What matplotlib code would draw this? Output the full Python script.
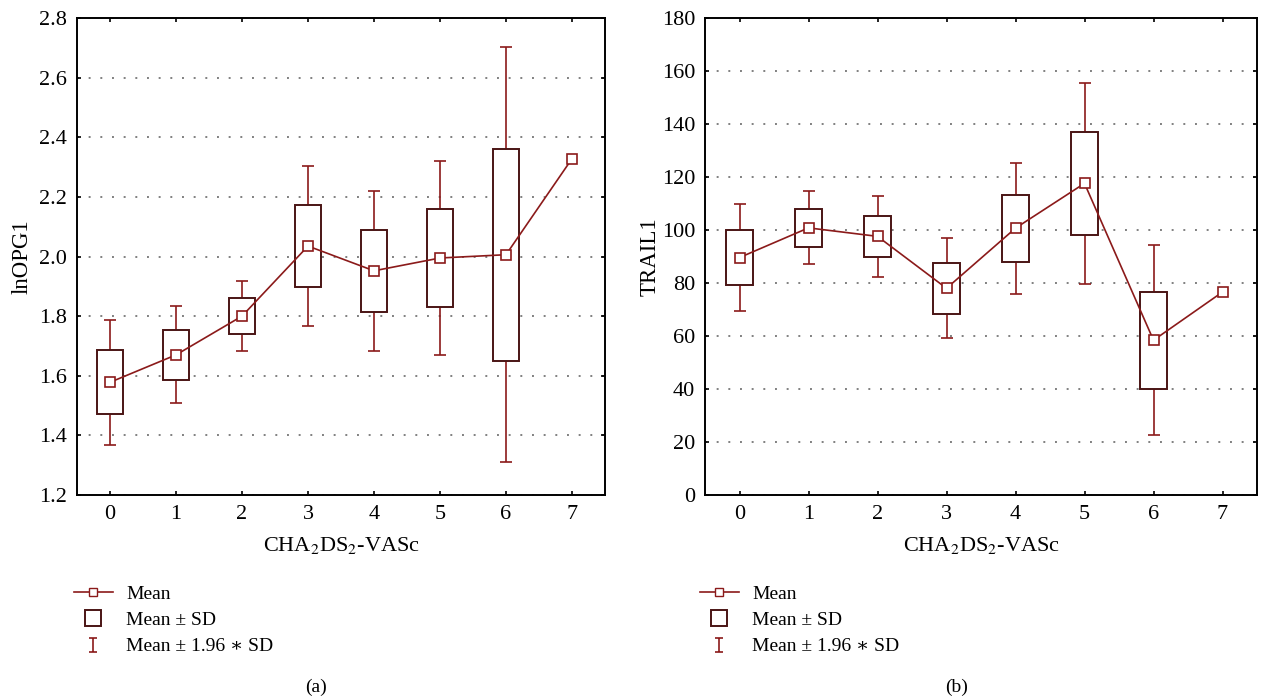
import numpy as np
import matplotlib
matplotlib.use("Agg")
import matplotlib.pyplot as plt
from matplotlib.lines import Line2D
from matplotlib.path import Path

plt.rcParams['font.family'] = ['Liberation Serif', 'DejaVu Serif']
plt.rcParams['mathtext.fontset'] = 'stix'

# CHA2DS2-VASc score groups
scores = [0, 1, 2, 3, 4, 5, 6, 7]

# lnOPG1: mean and SD per group (group 7 has a single value)
opg_mean = [1.578, 1.670, 1.800, 2.035, 1.952, 1.995, 2.006, 2.328]
opg_sd = [0.107, 0.083, 0.060, 0.137, 0.137, 0.166, 0.355, np.nan]

# TRAIL1: mean and SD per group
trail_mean = [89.6, 100.8, 97.6, 78.0, 100.7, 117.6, 58.4, 76.6]
trail_sd = [10.3, 7.05, 7.75, 9.65, 12.6, 19.4, 18.3, np.nan]

RED = '#8b1a1a'
DARK = '#4a1414'


def draw_panel(ax, mean, sd, ylim, yticks, ylabel, fmt, pad):
    x = np.array(scores)
    mean = np.array(mean)
    sd = np.array(sd)
    # whiskers: mean +/- 1.96*SD
    ax.errorbar(x, mean, yerr=1.96 * sd, fmt='none', ecolor=RED,
                elinewidth=1.2, capsize=4.5, capthick=1.2, zorder=2)
    # boxes: mean +/- SD
    ax.bar(x, 2 * sd, bottom=mean - sd, width=0.4, facecolor='white',
           edgecolor=DARK, linewidth=1.4, zorder=3)
    # mean line
    ax.plot(x, mean, color=RED, lw=1.2, marker='s', ms=6.5,
            mfc='white', mec=RED, mew=1.2, zorder=4)

    ax.set_xlim(-0.5, 7.5)
    ax.set_ylim(*ylim)
    ax.set_xticks(scores)
    ax.set_yticks(yticks)
    ax.set_yticklabels([fmt.format(v) for v in yticks])
    ax.yaxis.grid(True, color='#808080', linestyle=(0, (1, 5)), linewidth=1.4)
    ax.set_axisbelow(True)
    ax.tick_params(direction='in', top=True, right=True, length=3,
                   width=1.2, labelsize=16, pad=7)
    for s in ax.spines.values():
        s.set_linewidth(1.4)
    ax.set_xlabel(r'CHA$_2$DS$_2$-VASc', fontsize=16, labelpad=8)
    ax.set_ylabel(ylabel, fontsize=16.5, labelpad=pad)


fig = plt.figure(figsize=(12.61, 7), dpi=100)
ax1 = fig.add_axes([77 / 1261, 205 / 700, 528 / 1261, 477 / 700])
ax2 = fig.add_axes([705 / 1261, 205 / 700, 552 / 1261, 477 / 700])

draw_panel(ax1, opg_mean, opg_sd, (1.2, 2.8),
           [1.2, 1.4, 1.6, 1.8, 2.0, 2.2, 2.4, 2.6, 2.8], 'lnOPG1', '{:.1f}', 5)
draw_panel(ax2, trail_mean, trail_sd, (0, 180),
           list(range(0, 181, 20)), 'TRAIL1', '{:d}', 1)

# I-beam marker for the 1.96*SD legend entry
ibeam = Path([(-0.6, -1), (0.6, -1), (0, -1), (0, 1), (-0.6, 1), (0.6, 1)],
             [Path.MOVETO, Path.LINETO, Path.MOVETO, Path.LINETO,
              Path.MOVETO, Path.LINETO])

handles = [
    Line2D([], [], color=RED, lw=1.2, marker='s', ms=6, mfc='white', mec=RED),
    Line2D([], [], ls='none', marker='s', ms=11, mfc='white', mec=DARK, mew=1.4),
    Line2D([], [], ls='none', marker=ibeam, ms=10, mec=RED, mew=1.2),
]
labels = ['Mean', 'Mean ± SD', 'Mean ± 1.96 \u2217 SD']

for ax, lx, tag, tx in [(ax1, 74, '(a)', 316), (ax2, 700, '(b)', 957)]:
    ax.legend(handles, labels, loc='upper left',
              bbox_to_anchor=(lx / 1261, 115 / 700), bbox_transform=fig.transFigure,
              frameon=False, fontsize=14, handlelength=2.0, handletextpad=0.7,
              labelspacing=0.45, borderpad=0, borderaxespad=0)
    fig.text(tx / 1261, 13 / 700, tag, ha='center', va='center', fontsize=14)

fig.savefig('out.png', dpi=100)
